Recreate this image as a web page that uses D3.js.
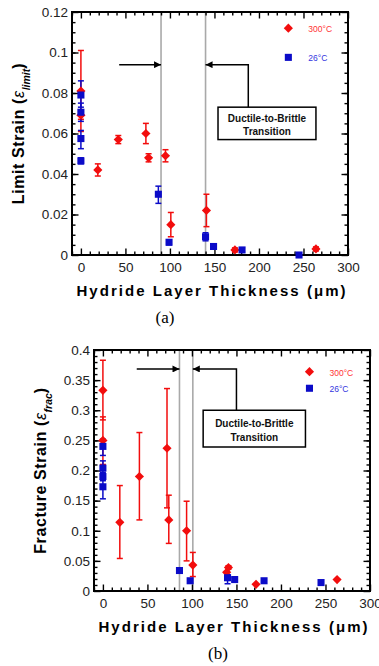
<!DOCTYPE html>
<html>
<head>
<meta charset="utf-8">
<script src="https://cdn.jsdelivr.net/npm/d3@7"></script>
<style>
	body { margin: 0; background: #fff; }
	svg { display: block; }
</style>
</head>
<body>
<svg id="chart" width="379" height="666"></svg>
<script>

	// shared x axis (hydride layer thickness, um)
	var xTicks = [0, 50, 100, 150, 200, 250, 300];
	var xLabels = ['0', '50', '100', '150', '200', '250', '300'];
	var xMinor = [-10, 10, 20, 30, 40, 60, 70, 80, 90, 110, 120, 130, 140, 160, 170, 180, 190, 210, 220, 230, 240, 260, 270, 280, 290];

	var legendLabels = ['300\u00b0C', '26\u00b0C'];
	var noteLines = ['Ductile-to-Brittle', 'Transition'];

	// (a) limit strain
	var limitTicks = [0, 0.02, 0.04, 0.06, 0.08, 0.1, 0.12];
	var limitLabels = ['0', '0.02', '0.04', '0.06', '0.08', '0.1', '0.12'];

	var limitHotX = [0, 0, 19, 42, 73, 76, 95, 101, 141, 173, 264];
	var limitHotY = [0.081, 0.069, 0.042, 0.057, 0.060, 0.048, 0.049, 0.015, 0.022, 0.0025, 0.003];
	var limitHotLo = [0.061, 0.067, 0.039, 0.055, 0.055, 0.046, 0.046, 0.009, 0.014, 0.0015, 0.002];
	var limitHotHi = [0.101, 0.071, 0.045, 0.059, 0.065, 0.050, 0.052, 0.021, 0.030, 0.0035, 0.004];

	var limitColdX = [0, 0, 0, 0, 87, 99, 140, 149, 181, 245];
	var limitColdY = [0.079, 0.0705, 0.0575, 0.0465, 0.030, 0.0063, 0.009, 0.0042, 0.0025, 0];
	var limitColdLo = [0.073, 0.066, 0.0525, 0.045, 0.0255, 0.005, 0.007, 0.003, 0.0015, 0];
	var limitColdHi = [0.086, 0.075, 0.0615, 0.048, 0.034, 0.0075, 0.011, 0.0055, 0.0035, 0.001];

	// (b) fracture strain
	var fracTicks = [0, 0.05, 0.1, 0.15, 0.2, 0.25, 0.3, 0.35, 0.4];
	var fracLabels = ['0', '0.05', '0.1', '0.15', '0.2', '0.25', '0.3', '0.35', '0.4'];

	var fracHotX = [0, 0, 19, 41, 72, 74, 94, 101, 139, 141, 172, 263];
	var fracHotY = [0.333, 0.25, 0.114, 0.19, 0.237, 0.118, 0.100, 0.043, 0.031, 0.039, 0.011, 0.019];
	var fracHotLo = [0.284, 0.21, 0.054, 0.118, 0.138, 0.079, 0.050, 0.024, 0.029, 0.036, 0.009, 0.017];
	var fracHotHi = [0.383, 0.289, 0.175, 0.263, 0.336, 0.159, 0.149, 0.064, 0.033, 0.042, 0.013, 0.021];

	var fracColdX = [0, 0, 0, 0, 86, 98, 140, 148, 181, 245];
	var fracColdY = [0.240, 0.204, 0.190, 0.173, 0.034, 0.017, 0.022, 0.019, 0.017, 0.014];
	var fracColdLo = [0.225, 0.193, 0.183, 0.153, 0.032, 0.015, 0.012, 0.016, 0.015, 0.010];
	var fracColdHi = [0.252, 0.216, 0.197, 0.185, 0.036, 0.019, 0.027, 0.022, 0.019, 0.017];

	var RED = '#f20d0d', BLUE = '#0b0bc8';
	var FONT = 'Arial, "Liberation Sans", sans-serif';

	var svg = d3.select('#chart');

	// arrow head for the annotation
	svg.append('defs').append('marker')
		.attr('id', 'head')
		.attr('viewBox', '0 0 10 10')
		.attr('refX', 10).attr('refY', 5)
		.attr('markerWidth', 8).attr('markerHeight', 7)
		.attr('markerUnits', 'userSpaceOnUse')
		.attr('orient', 'auto')
		.append('path')
		.attr('d', 'M0,0L10,5L0,10z')
		.attr('fill', '#000');

	function zip(xs, ys, lo, hi) {
		return xs.map(function (d, i) {
			return {x: d, y: ys[i], lo: lo[i], hi: hi[i]};
		});
	}

	// ticks point inwards, so the inner size is negative
	function axis(gen, ticks, size, labels, pad) {
		return gen.tickValues(ticks).tickSizeInner(-size).tickSizeOuter(0)
			.tickPadding(pad || 0)
			.tickFormat(labels ? function (d, i) { return labels[i]; } : '');
	}

	function drawPanel(cfg) {
		var g = svg.append('g');

		var x = d3.scaleLinear().domain([-10, 300]).range([cfg.left, cfg.right]);
		var y = d3.scaleLinear().domain([0, cfg.yTicks[cfg.yTicks.length - 1]]).range([cfg.bottom, cfg.top]);

		// transition lines
		g.selectAll('.vline').data(cfg.lines).enter().append('line')
			.attr('x1', function (d) { return x(d); })
			.attr('x2', function (d) { return x(d); })
			.attr('y1', cfg.top).attr('y2', cfg.bottom)
			.attr('stroke', '#a9a9a9').attr('stroke-width', 1.6);

		// all four sides get major + minor ticks, only bottom/left are labelled
		var sides = [
			{make: function () { return d3.axisBottom(x); }, at: 'translate(0,' + cfg.bottom + ')',
				major: xTicks, minor: xMinor, labels: xLabels, pad: 7},
			{make: function () { return d3.axisTop(x); }, at: 'translate(0,' + cfg.top + ')',
				major: xTicks, minor: xMinor},
			{make: function () { return d3.axisLeft(y); }, at: 'translate(' + cfg.left + ',0)',
				major: cfg.yTicks, minor: cfg.yMinor, labels: cfg.yLabels, pad: 4},
			{make: function () { return d3.axisRight(y); }, at: 'translate(' + cfg.right + ',0)',
				major: cfg.yTicks, minor: cfg.yMinor}
		];
		sides.forEach(function (s) {
			var major = g.append('g').attr('transform', s.at)
				.call(axis(s.make(), s.major, 6.5, s.labels, s.pad));
			var minor = g.append('g').attr('transform', s.at)
				.call(axis(s.make(), s.minor, 3.5, null));
			[major, minor].forEach(function (a) {
				a.select('.domain').remove();
				a.selectAll('line').attr('stroke', '#000').attr('stroke-width', 1.4);
			});
			major.selectAll('text').attr('fill', '#222')
				.style('font-family', FONT).style('font-size', '13.5px');
		});

		// frame
		g.append('rect')
			.attr('x', cfg.left).attr('y', cfg.top)
			.attr('width', cfg.right - cfg.left).attr('height', cfg.bottom - cfg.top)
			.attr('fill', 'none').attr('stroke', '#000').attr('stroke-width', 2);

		// annotation: arrows and box
		var a = cfg.note;
		g.append('line')
			.attr('x1', x(a.leftFrom)).attr('x2', x(cfg.lines[0]))
			.attr('y1', y(a.arrowY)).attr('y2', y(a.arrowY))
			.attr('stroke', '#000').attr('stroke-width', 1.5)
			.attr('marker-end', 'url(#head)');
		g.append('path')
			.attr('d', 'M' + x(a.rightFrom) + ',' + y(a.boxTop) + 'V' + y(a.arrowY) + 'H' + x(cfg.lines[1]))
			.attr('fill', 'none').attr('stroke', '#000').attr('stroke-width', 1.5)
			.attr('marker-end', 'url(#head)');
		g.append('rect')
			.attr('x', x(a.boxLeft)).attr('y', y(a.boxTop))
			.attr('width', x(a.boxRight) - x(a.boxLeft)).attr('height', y(a.boxBottom) - y(a.boxTop))
			.attr('fill', '#fff').attr('stroke', '#000').attr('stroke-width', 1.5);
		var cx = (x(a.boxLeft) + x(a.boxRight)) / 2, cy = (y(a.boxTop) + y(a.boxBottom)) / 2;
		g.append('text')
			.attr('x', cx).attr('y', cy)
			.attr('text-anchor', 'middle')
			.attr('fill', '#111')
			.style('font', 'bold 10px ' + FONT)
			.selectAll('tspan').data(noteLines).enter().append('tspan')
			.attr('x', cx)
			.attr('dy', function (d, i) { return i === 0 ? -1.5 : 13.5; })
			.text(function (d) { return d; });

		// error bars then symbols
		var series = [
			{data: cfg.hot, color: RED, shape: d3.symbol(d3.symbolSquare).size(42), rot: 45},
			{data: cfg.cold, color: BLUE, shape: d3.symbol(d3.symbolSquare).size(50), rot: 0}
		];
		series.forEach(function (s) {
			var bars = g.append('g').attr('stroke', s.color).attr('stroke-width', 1.5);
			s.data.forEach(function (d) {
				if (y(d.lo) - y(d.hi) < 3) return;
				bars.append('line').attr('x1', x(d.x)).attr('x2', x(d.x))
					.attr('y1', y(d.lo)).attr('y2', y(d.hi));
				[d.lo, d.hi].forEach(function (v) {
					bars.append('line').attr('x1', x(d.x) - 3).attr('x2', x(d.x) + 3)
						.attr('y1', y(v)).attr('y2', y(v));
				});
			});
		});
		series.forEach(function (s) {
			g.append('g').selectAll('path').data(s.data).enter().append('path')
				.attr('d', s.shape)
				.attr('transform', function (d) {
					return 'translate(' + x(d.x) + ',' + y(d.y) + ') rotate(' + s.rot + ')';
				})
				.attr('fill', s.color);
		});

		// legend
		series.forEach(function (s, i) {
			var ly = y(cfg.legendY[i]);
			g.append('path').attr('d', s.shape)
				.attr('transform', 'translate(' + x(cfg.legendX) + ',' + ly + ') rotate(' + s.rot + ')')
				.attr('fill', s.color);
			g.append('text')
				.attr('x', x(cfg.legendX) + 20).attr('y', ly + 4)
				.attr('fill', i === 0 ? '#ff3333' : '#3434e0')
				.style('font', '8.5px ' + FONT)
				.text(legendLabels[i]);
		});

		// axis titles
		g.append('text')
			.attr('x', (cfg.left + cfg.right) / 2 + 1).attr('y', cfg.bottom + 41)
			.attr('text-anchor', 'middle')
			.attr('textLength', 269).attr('lengthAdjust', 'spacing')
			.style('font', 'bold 15px ' + FONT)
			.text('Hydride Layer Thickness (\u03bcm)');

		var yl = g.append('text')
			.attr('transform', 'translate(' + cfg.yTitleX + ',' + (cfg.top + cfg.bottom) / 2 + ') rotate(-90)')
			.attr('text-anchor', 'middle')
			.style('font', 'bold 16px ' + FONT)
			.style('letter-spacing', '0.6px');
		yl.append('tspan').text(cfg.yTitle + ' (');
		yl.append('tspan').style('font-style', 'italic').style('font-weight', 'normal').text('\u03b5');
		yl.append('tspan').attr('dy', 6).style('font-style', 'italic').style('font-size', '10.5px')
			.style('letter-spacing', '0px').text(cfg.yTitleSub);
		yl.append('tspan').attr('dy', -6).text(')');

		// caption
		g.append('text')
			.attr('x', cfg.captionX).attr('y', cfg.bottom + 68)
			.attr('text-anchor', 'middle')
			.style('font', '17px "Liberation Serif", "Times New Roman", serif')
			.text(cfg.caption);
	}

	drawPanel({
		left: 72, right: 348, top: 12, bottom: 255,
		yTicks: limitTicks, yLabels: limitLabels,
		yMinor: d3.range(0.005, 0.12, 0.005),
		hot: zip(limitHotX, limitHotY, limitHotLo, limitHotHi),
		cold: zip(limitColdX, limitColdY, limitColdLo, limitColdHi),
		lines: [90, 140],
		note: {leftFrom: 43, rightFrom: 188, arrowY: 0.094, boxLeft: 154, boxRight: 264, boxTop: 0.073, boxBottom: 0.057},
		legendX: 233, legendY: [0.112, 0.0976],
		yTitle: 'Limit Strain', yTitleSub: 'limit', yTitleX: 23.5,
		caption: '(a)', captionX: 165
	});

	drawPanel({
		left: 94, right: 370, top: 350, bottom: 591,
		yTicks: fracTicks, yLabels: fracLabels,
		yMinor: d3.range(0.01, 0.4, 0.01),
		hot: zip(fracHotX, fracHotY, fracHotLo, fracHotHi),
		cold: zip(fracColdX, fracColdY, fracColdLo, fracColdHi),
		lines: [86, 101],
		note: {leftFrom: 38, rightFrom: 150, arrowY: 0.3685, boxLeft: 112.6, boxRight: 227.5, boxTop: 0.30, boxBottom: 0.239},
		legendX: 232, legendY: [0.364, 0.3365],
		yTitle: 'Fracture Strain', yTitleSub: 'frac', yTitleX: 45.5,
		caption: '(b)', captionX: 218
	});

</script>
</body>
</html>
